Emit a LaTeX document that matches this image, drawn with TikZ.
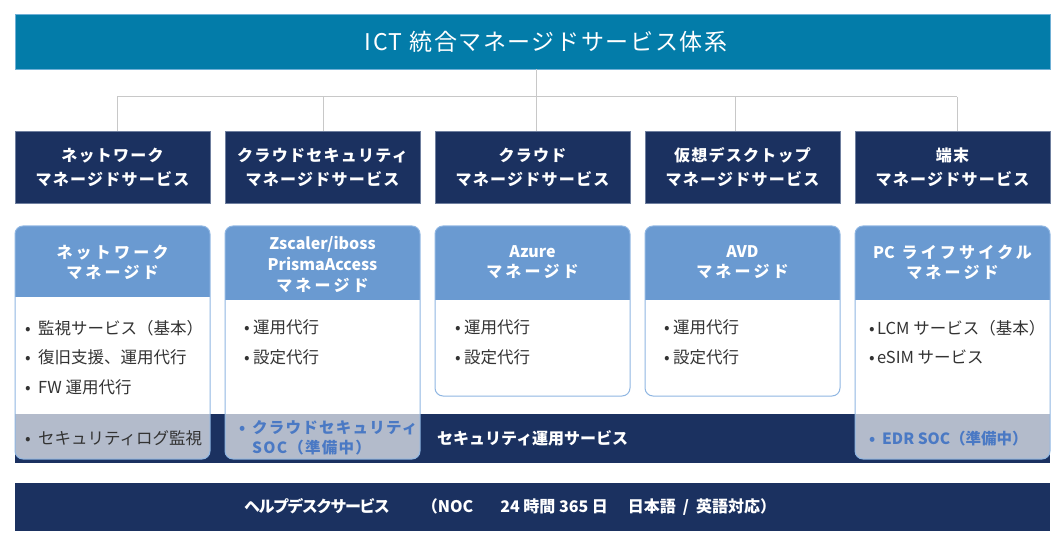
\documentclass[tikz,border=0pt]{standalone}
\usepackage{fontspec}
\setmainfont{Noto Sans CJK JP}
\newfontfamily\jpTitle[LetterSpace=7]{Noto Sans CJK JP}
\newfontfamily\jpBox[LetterSpace=8]{Noto Sans CJK JP}
\newfontfamily\jpHead[LetterSpace=20]{Noto Sans CJK JP}
\newfontfamily\jpTight[LetterSpace=-10]{Noto Sans CJK JP}
\newfontfamily\jpLat{Noto Sans CJK JP}
\definecolor{titleblue}{HTML}{037CA9}
\definecolor{titleedge}{HTML}{6FB0D6}
\definecolor{navy}{HTML}{1B3160}
\definecolor{navyedge}{HTML}{6F7F9F}
\definecolor{hdrblue}{HTML}{6A9AD1}
\definecolor{cardedge}{HTML}{8FB6E2}
\definecolor{graybg}{HTML}{B3BBCB}
\definecolor{bodytxt}{HTML}{333333}
\definecolor{soctxt}{HTML}{4A79C4}
\definecolor{connc}{HTML}{C8C8C8}
\tikzset{
  bar/.style={minimum width=1035, inner sep=0, line width=0.8pt},
  catbox/.style={fill=navy, draw=navyedge, line width=0.6pt, minimum width=195, minimum height=72,
    inner sep=0, text=white, align=center, font=\jpBox\bfseries\fontsize{16}{24}\selectfont},
  headtxt/.style={inner sep=0, text=white, align=center, font=\jpHead\bfseries\fontsize{16}{20}\selectfont},
  bodyline/.style={inner sep=0, anchor=west, text=bodytxt, font=\fontsize{16.5}{20}\selectfont,
    text height=0.85em, text depth=0.1em, yshift=-2.5pt},
  soc/.style={bodyline, text=soctxt, font=\jpBox\bfseries\fontsize{15.5}{20}\selectfont},
  conn/.style={draw=connc, line width=1pt},
  cardline/.style={draw=cardedge, line width=1pt},
}
\newcommand\mkcardgray[2]{%
  \begin{scope}
    \clip[rounded corners=8] (#1,226) rectangle (#1+195,459);
    \fill[white] (#1,226) rectangle (#1+195,459);
    \fill[hdrblue] (#1,226) rectangle (#1+195,#2);
    \fill[graybg] (#1,414) rectangle (#1+195,459);
  \end{scope}
  \draw[cardline, rounded corners=8] (#1,226) rectangle (#1+195,459);}
\newcommand\mkcardplain[2]{%
  \begin{scope}
    \clip[rounded corners=8] (#1,226) rectangle (#1+195,396);
    \fill[white] (#1,226) rectangle (#1+195,396);
    \fill[hdrblue] (#1,226) rectangle (#1+195,#2);
  \end{scope}
  \draw[cardline, rounded corners=8] (#1,226) rectangle (#1+195,396);}
\begin{document}
\begin{tikzpicture}[x=1pt,y=-1pt]
\useasboundingbox (0,0) rectangle (1063,545);
\fill[white] (0,0) rectangle (1063,545);

% title bar
\node[bar, fill=titleblue, draw=titleedge, minimum height=55] (title) at (532.5,41.5) {};
\node[inner sep=0, text=white, font=\jpTitle\fontsize{23}{28}\selectfont] (titletext) at (546,42) {ICT 統合マネージドサービス体系};

% category boxes
\node[catbox] (b1) at (112.5,167) {ネットワーク\\マネージドサービス};
\node[catbox] (b2) at (322.5,167) {クラウドセキュリティ\\マネージドサービス};
\node[catbox] (b3) at (532.5,167) {クラウド\\マネージドサービス};
\node[catbox] (b4) at (742.5,167) {仮想デスクトップ\\マネージドサービス};
\node[catbox] (b5) at (952.5,167) {端末\\マネージドサービス};

% connectors
\coordinate (hub) at (536,97);
\coordinate (d1) at (117,97);
\coordinate (d2) at (323,97);
\coordinate (d4) at (735,97);
\coordinate (d5) at (957,97);
\draw[conn] (title.south -| hub) -- (hub);
\draw[conn] (d1) -- (d5);
\draw[conn] (d1) -- (d1 |- b1.north);
\draw[conn] (d2) -- (d2 |- b2.north);
\draw[conn] (hub) -- (hub |- b3.north);
\draw[conn] (d4) -- (d4 |- b4.north);
\draw[conn] (d5) -- (d5 |- b5.north);

% security operations band
\node[bar, fill=navy, minimum height=49, anchor=north west] (band) at (15,414) {};
\node[inner sep=0, anchor=west, text=white, font=\bfseries\fontsize{16}{20}\selectfont] (bandtext) at (437,438) {セキュリティ運用サービス};

% cards
\mkcardgray{15}{297}
\mkcardgray{225}{300}
\mkcardplain{435}{300}
\mkcardplain{645}{300}
\mkcardgray{855}{300}

% card headers
\node[headtxt] (h1) at (112.5,262) {ネットワーク\\マネージド};
\node[headtxt, font=\jpHead\bfseries\fontsize{16}{21}\selectfont] (h2) at (322.5,264) {{\jpLat Zscaler/iboss}\\{\jpLat PrismaAccess}\\マネージド};
\node[headtxt] (h3) at (532.5,262) {{\jpLat Azure}\\マネージド};
\node[headtxt] (h4) at (742.5,262) {{\jpLat AVD}\\マネージド};
\node[headtxt] (h5) at (952.5,262) {{\jpLat PC} ライフサイクル\\マネージド};

% card bodies
\node[bodyline] (c1a) at (25,328) {\makebox[13pt][l]{•}監視サービス（基本）};
\node[bodyline] (c1b) at (25,357) {\makebox[13pt][l]{•}復旧支援、運用代行};
\node[bodyline] (c1c) at (25,387) {\makebox[13pt][l]{•}FW 運用代行};
\node[bodyline] (c1d) at (25,438) {\makebox[13pt][l]{•}セキュリティログ監視};

\node[bodyline] (c2a) at (244,327) {\makebox[9pt][l]{•}運用代行};
\node[bodyline] (c2b) at (244,357) {\makebox[9pt][l]{•}設定代行};
\node[soc] (c2c) at (239,427) {\makebox[13pt][l]{•}クラウドセキュリティ};
\node[soc] (c2d) at (252,447) {SOC（準備中）};

\node[bodyline] (c3a) at (455,327) {\makebox[9pt][l]{•}運用代行};
\node[bodyline] (c3b) at (455,357) {\makebox[9pt][l]{•}設定代行};

\node[bodyline] (c4a) at (664,327) {\makebox[9pt][l]{•}運用代行};
\node[bodyline] (c4b) at (664,357) {\makebox[9pt][l]{•}設定代行};

\node[bodyline] (c5a) at (869,328) {\makebox[8pt][l]{•}LCM サービス（基本）};
\node[bodyline] (c5b) at (869,357) {\makebox[8pt][l]{•}eSIM サービス};
\node[soc, font=\bfseries\fontsize{15.5}{20}\selectfont] (c5c) at (869,438) {\makebox[13pt][l]{•}EDR SOC（準備中）};

% help desk bar
\node[bar, fill=navy, minimum height=48, anchor=north west] (help) at (15,483) {};
\node[inner sep=0, anchor=west, text=white, font=\bfseries\fontsize{16}{20}\selectfont] (helptext) at (244,507)
  {{\jpTight\bfseries ヘルプデスクサービス}\hspace{32pt}（NOC\hspace{27pt}24 時間 365 日\hspace{20pt}日本語\hspace{7pt}/\hspace{7pt}英語対応）};
\end{tikzpicture}
\end{document}
